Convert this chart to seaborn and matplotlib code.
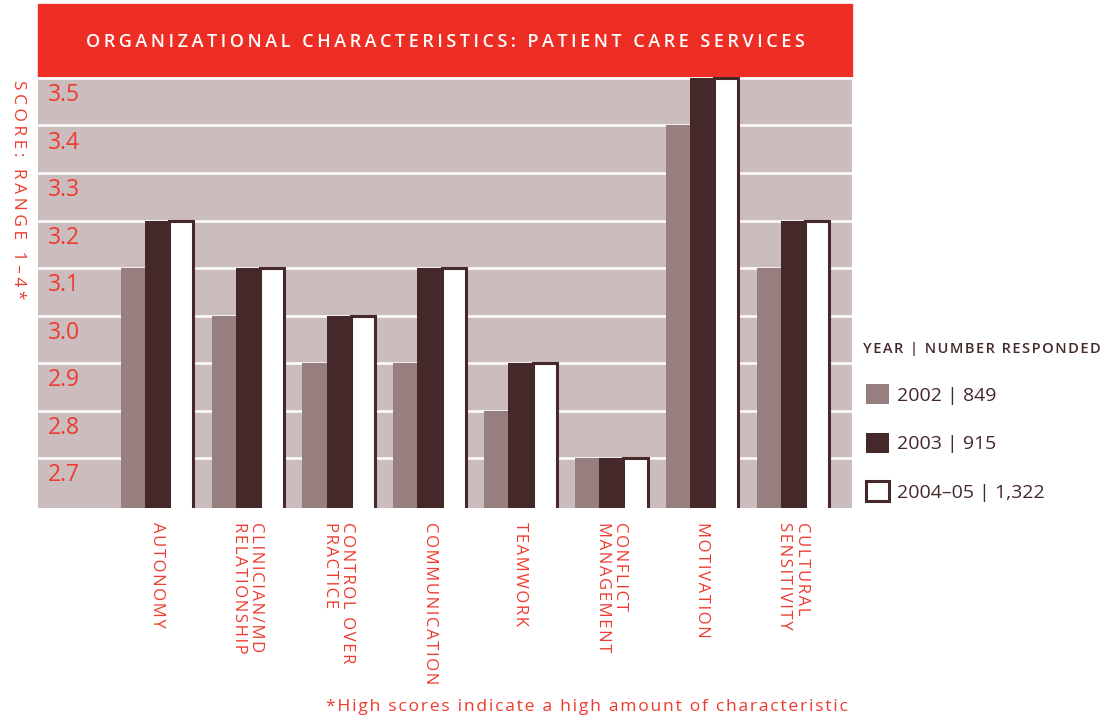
import numpy as np
import pandas as pd
import matplotlib
matplotlib.use("Agg")
import matplotlib.pyplot as plt
import seaborn as sns
from matplotlib.patches import Rectangle

# ------------------------------------------------------------------
# Data
# ------------------------------------------------------------------
categories = [
    "AUTONOMY", "CLINICIAN/MD\nRELATIONSHIP", "CONTROL OVER\nPRACTICE",
    "COMMUNICATION", "TEAMWORK", "CONFLICT\nMANAGEMENT", "MOTIVATION",
    "CULTURAL\nSENSITIVITY",
]
years = ["2002 | 849", "2003 | 915", "2004\u201305 | 1,322"]
scores_2002 = [3.1, 3.0, 2.9, 2.9, 2.8, 2.7, 3.4, 3.1]
scores_2003 = [3.2, 3.1, 3.0, 3.1, 2.9, 2.7, 3.5, 3.2]
scores_2004 = [3.2, 3.1, 3.0, 3.1, 2.9, 2.7, 3.5, 3.2]
yticks = [2.7, 2.8, 2.9, 3.0, 3.1, 3.2, 3.3, 3.4, 3.5]

# ------------------------------------------------------------------
# Style
# ------------------------------------------------------------------
RED = "#ee2e24"
TEXT_RED = "#ee3a2e"
BG = "#cbbdbe"
LIGHT = "#967f7e"
DARK = "#45282a"
FONT = "Open Sans"


def track(s, sp="\u200a"):
    """Fake letter spacing with hair spaces."""
    return "\n".join(sp.join(line) for line in s.split("\n"))


sns.set_theme(style="white")
plt.rcParams["font.family"] = [FONT, "DejaVu Sans"]

df = pd.DataFrame({
    "category": np.repeat(categories, 3),
    "year": years * len(categories),
    "score": np.ravel(np.column_stack([scores_2002, scores_2003, scores_2004])),
})

fig = plt.figure(figsize=(11.18, 7.25), dpi=100)
ax = fig.add_axes([38 / 1118, 1 - 508 / 725, 814 / 1118, 431 / 725])
ax.set_facecolor(BG)

sns.barplot(
    data=df, x="category", y="score", hue="year", order=categories,
    hue_order=years, palette=[LIGHT, DARK, "white"], width=0.8,
    saturation=1, linewidth=0, ax=ax,
)

# outline the white bars
for p in ax.containers[2]:
    p.set_edgecolor(DARK)
    p.set_linewidth(2.2)

ax.set_ylim(2.595, 3.502)
ax.set_xlim(-1.31, 7.65)
ax.set_yticks(yticks)
ax.yaxis.grid(True, color="white", linewidth=1.8)
ax.set_axisbelow(True)
ax.set_yticklabels([])
ax.tick_params(axis="y", length=0)
for t in yticks:
    ax.text(0.012, t - 0.036, f"{t:.1f}", transform=ax.get_yaxis_transform(),
            ha="left", va="center", fontsize=16.5, color=TEXT_RED)

ax.set_xticks(range(len(categories)))
ax.set_xticklabels([track(c) for c in categories], rotation=270,
                   ha="center", va="top", multialignment="left",
                   fontsize=12, color=TEXT_RED, linespacing=1.1)
ax.tick_params(axis="x", length=0, pad=10)
ax.set_xlabel("")
ax.set_ylabel("")
for s in ax.spines.values():
    s.set_visible(False)

# title band
fig.add_artist(Rectangle((38 / 1118, 1 - 76 / 725), 814 / 1118, 72 / 725,
                         transform=fig.transFigure, color=RED, zorder=0))
fig.text(445 / 1118, 1 - 42 / 725,
         track("ORGANIZATIONAL CHARACTERISTICS: PATIENT CARE SERVICES", "\u200a\u200a"),
         ha="center", va="center", color="white", fontsize=13, weight="semibold")

# y axis title
fig.text(18 / 1118, 1 - 80 / 725, track("SCORE: RANGE 1\u20134*", "\u200a\u200a"),
         rotation=270, ha="center", va="top", color=TEXT_RED, fontsize=12.5)

# footnote
fig.text(848 / 1118, 1 - 707 / 725,
         track("*High scores indicate a high amount of characteristic"),
         ha="right", va="center", color=TEXT_RED, fontsize=12.6)

# legend header
fig.text(863 / 1118, 1 - 349 / 725, track("YEAR | NUMBER RESPONDED"),
         ha="left", va="center", color=DARK, fontsize=10.5, weight="semibold")

# legend
handles, labels = ax.get_legend_handles_labels()
if ax.legend_:
    ax.legend_.remove()
leg = fig.legend(
    handles, labels, loc="upper left",
    bbox_to_anchor=(866 / 1118, 1 - 384 / 725), frameon=False,
    fontsize=14, handlelength=1.2, handleheight=1.2, labelspacing=1.45,
    handletextpad=0.4, borderpad=0, borderaxespad=0,
)
leg.legend_handles[2].set_edgecolor(DARK)
leg.legend_handles[2].set_linewidth(2.2)
for txt in leg.get_texts():
    txt.set_color(DARK)

fig.savefig("out.png", dpi=100)
